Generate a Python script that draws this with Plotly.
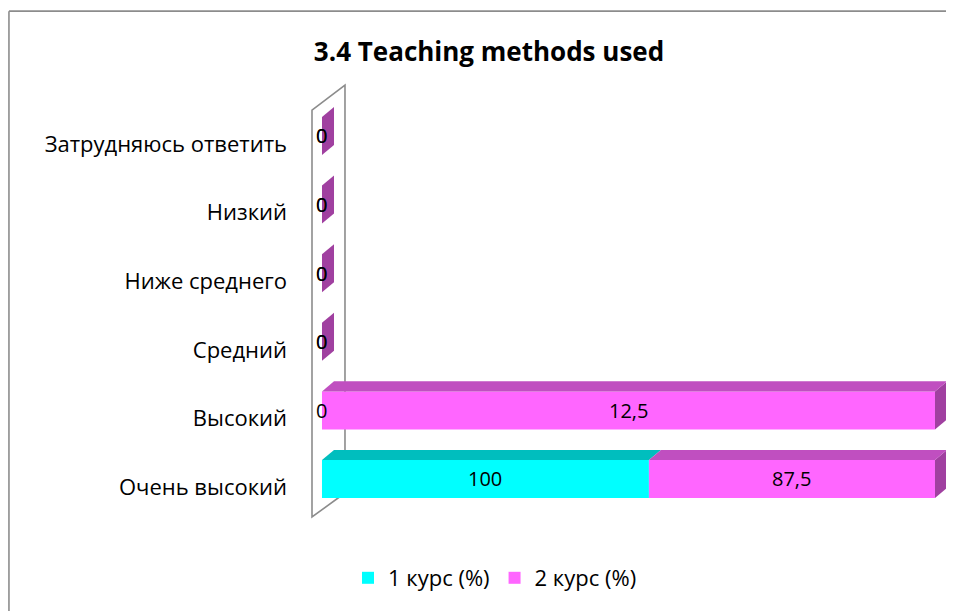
import plotly.graph_objects as go

# ---- data ----
categories = ["Очень высокий", "Высокий", "Средний", "Ниже среднего", "Низкий", "Затрудняюсь ответить"]
series_names = ["1 курс (%)", "2 курс (%)"]
course1 = [100, 0, 0, 0, 0, 0]
course2 = [87.5, 12.5, 0, 0, 0, 0]
title_text = "3.4 Teaching methods used"

# ---- styles ----
front_colors = ["#00FFFF", "#FF66FF"]
top_colors = ["#00BEBE", "#C04FC0"]
side_colors = ["#009C9C", "#A040A0"]
FONT = "Open Sans"
TEXT_COLOR = "#000000"

W = 0.554      # bar thickness (category units)
OFF = 0.117    # bar front-face shift up from category centre
DX = 1.96      # 3D depth in x (value units)
DY = 0.146     # 3D depth in y (category units)

FIG_W, FIG_H = 946, 603


def fmt(v):
    return ("%g" % v).replace(".", ",")


series = [course1, course2]
n = len(categories)
totals = [sum(s[i] for s in series) for i in range(n)]
pct = [[(s[i] / totals[i] * 100 if totals[i] else 0) for i in range(n)] for s in series]

fig = go.Figure()
bases = [0.0] * n
starts = []
for k, name in enumerate(series_names):
    starts.append(bases[:])
    fig.add_trace(go.Bar(
        y=list(range(n)), x=pct[k], base=bases[:], orientation="h",
        width=W, offset=OFF - W / 2, name=name,
        marker=dict(color=front_colors[k], line=dict(width=0)),
        hoverinfo="skip",
    ))
    bases = [bases[i] + pct[k][i] for i in range(n)]

shapes = []
# back wall (decorative axis wall)
shapes.append(dict(type="path", xref="paper", yref="paper",
                   path="M 0 0 L 0 0.942 L 0.0517 1 L 0.0517 0.0556 Z",
                   line=dict(color="#8C8C8C", width=1.6), fillcolor="white", layer="below"))

# 3D faces
for i in range(n):
    yt = i + OFF + W / 2
    yb = i + OFF - W / 2
    xe = bases[i]
    shapes.append(dict(type="path", xref="x", yref="y",
                       path=f"M {xe} {yb} L {xe+DX} {yb+DY} L {xe+DX} {yt+DY} L {xe} {yt} Z",
                       line=dict(width=0), fillcolor=side_colors[-1], layer="above"))
    for k in range(len(series)):
        x0 = starts[k][i]
        x1 = x0 + pct[k][i]
        if x1 - x0 <= 0:
            continue
        shapes.append(dict(type="path", xref="x", yref="y",
                           path=f"M {x0} {yt} L {x1} {yt} L {x1+DX} {yt+DY} L {x0+DX} {yt+DY} Z",
                           line=dict(width=0), fillcolor=top_colors[k], layer="above"))

# outer chart frame (left and top edges)
shapes.append(dict(type="line", xref="paper", yref="paper", x0=-0.475, x1=-0.475, y0=-0.3, y1=1.171,
                   line=dict(color="#8C8C8C", width=1.6)))
shapes.append(dict(type="line", xref="paper", yref="paper", x0=-0.475, x1=1.1, y0=1.171, y1=1.171,
                   line=dict(color="#8C8C8C", width=1.6)))

annotations = []
for k in range(len(series)):
    for i in range(n):
        x0 = starts[k][i]
        xm = x0 + pct[k][i] / 2
        annotations.append(dict(x=xm, y=i + OFF, xref="x", yref="y", text=fmt(series[k][i]),
                                showarrow=False, font=dict(family=FONT, size=20, color=TEXT_COLOR)))

fig.update_layout(
    width=FIG_W, height=FIG_H,
    margin=dict(l=304, r=4, t=77, b=94),
    paper_bgcolor="white", plot_bgcolor="white",
    barmode="overlay",
    showlegend=True,
    title=dict(text="<b>" + title_text + "</b>", x=481 / FIG_W, xref="container", xanchor="center",
               y=1 - 44 / FIG_H, yref="container", yanchor="middle",
               font=dict(family=FONT, size=26, color="#000000")),
    legend=dict(orientation="h", x=487 / FIG_W, xanchor="center", xref="container",
                y=1 - 570 / FIG_H, yref="container", yanchor="middle",
                font=dict(family=FONT, size=22, color="#000000"), itemwidth=30,
                traceorder="normal"),
    xaxis=dict(range=[-1.63, 102.45], visible=False, fixedrange=True),
    yaxis=dict(range=[-0.437, 5.86], tickmode="array", tickvals=list(range(n)), ticktext=categories,
               showgrid=False, zeroline=False, showline=False, ticks="",
               ticklabelstandoff=24,
               tickfont=dict(family=FONT, size=22, color="#000000")),
    shapes=shapes,
    annotations=annotations,
)

fig.write_html("out.html")
